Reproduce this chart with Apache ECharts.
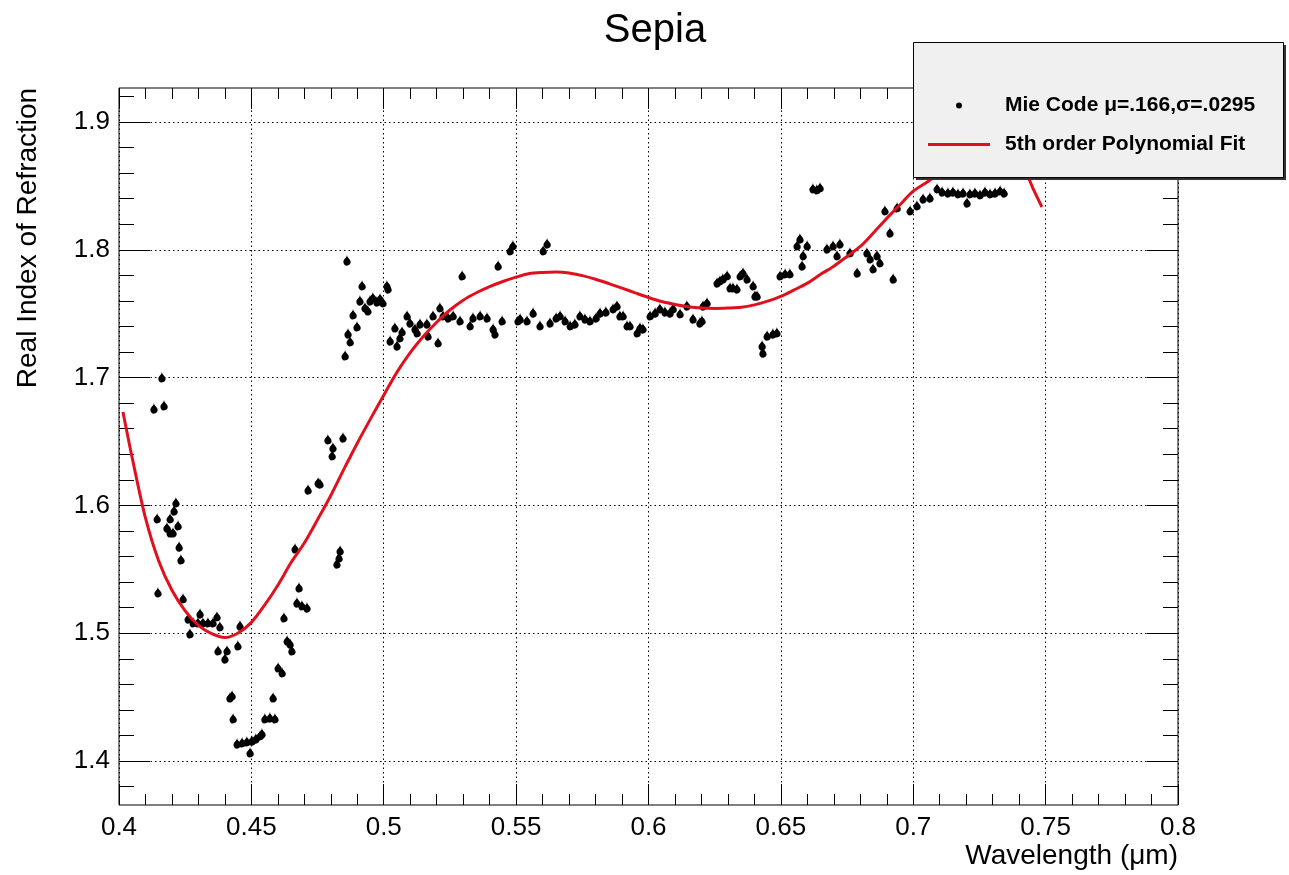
<!DOCTYPE html>
<html>
<head>
<meta charset="utf-8">
<script src="https://cdn.jsdelivr.net/npm/echarts@6/dist/echarts.min.js"></script>
<style>html,body{margin:0;padding:0;background:#fff;}#c{width:1289px;height:875px;}</style>
</head>
<body>
<div id="c"></div>
<script>
// ---- Data ----
const mieWavelength = [
0.4132,0.4170,0.4162,0.4144,0.4193,0.4215,0.4208,0.4181,0.4193,0.4204,0.4223,0.4227,0.4234,0.4147,0.4242,0.4261,0.4268,0.4306,0.4280,0.4298,
0.4317,0.4336,0.4355,0.4370,0.4381,0.4374,0.4400,0.4408,0.4457,0.4449,0.4419,0.4427,0.4431,0.4446,0.4465,0.4483,0.4502,0.4517,0.4533,0.4495,
0.4540,0.4582,0.4551,0.4570,0.4589,0.4601,0.4616,0.4635,0.4646,0.4653,0.4623,0.4680,0.4672,0.4691,0.4710,0.4665,0.4714,0.4752,0.4759,0.4835,
0.4831,0.4823,0.4789,0.4808,0.4805,0.4846,0.4854,0.4873,0.4865,0.4884,0.4899,0.4918,0.4861,0.4910,0.4929,0.4940,0.4948,0.4959,0.4974,0.4986,
0.4997,0.5012,0.5016,0.5024,0.5050,0.5042,0.5061,0.5069,0.5088,0.5099,0.5118,0.5126,0.5137,0.5163,0.5167,0.5186,0.5212,0.5205,0.5224,0.5243,
0.5262,0.5288,0.5296,0.5326,0.5337,0.5364,0.5390,0.5413,0.5420,0.5432,0.5447,0.5477,0.5488,0.5507,0.5515,0.5541,0.5564,0.5590,0.5602,0.5617,
0.5628,0.5651,0.5666,0.5685,0.5704,0.5722,0.5741,0.5760,0.5779,0.5802,0.5817,0.5839,0.5866,0.5881,0.5892,0.5904,0.5919,0.5930,0.5957,0.5968,
0.5979,0.6006,0.6025,0.6043,0.6062,0.6081,0.6093,0.6119,0.6145,0.6168,0.6194,0.6202,0.6206,0.6221,0.6259,0.6270,0.6281,0.6297,0.6308,0.6319,
0.6334,0.6346,0.6357,0.6372,0.6395,0.6402,0.6410,0.6429,0.6432,0.6448,0.6470,0.6485,0.6497,0.6516,0.6534,0.6561,0.6572,0.6584,0.6599,0.6580,
0.6621,0.6636,0.6648,0.6674,0.6697,0.6723,0.6712,0.6761,0.6788,0.6825,0.6837,0.6863,0.6874,0.6848,0.6924,0.6893,0.6912,0.6939,0.6988,0.7014,
0.7037,0.7063,0.7090,0.7109,0.7131,0.7150,0.7169,0.7188,0.7203,0.7214,0.7233,0.7252,0.7271,0.7290,0.7309,0.7328,0.7343
];
const mieIndex = [
1.6801,1.6825,1.7044,1.5941,1.5941,1.6066,1.6003,1.5870,1.5831,1.5831,1.5886,1.5721,1.5620,1.5362,1.5315,1.5158,1.5041,1.5197,1.5127,1.5127,
1.5127,1.5127,1.5127,1.5174,1.5096,1.4908,1.4845,1.4908,1.5103,1.4947,1.4540,1.4556,1.4376,1.4180,1.4188,1.4196,1.4203,1.4219,1.4243,1.4110,
1.4258,1.4540,1.4376,1.4383,1.4376,1.4775,1.4736,1.4986,1.4962,1.4908,1.5166,1.5401,1.5283,1.5260,1.5244,1.5706,1.6167,1.6222,1.6214,1.5690,
1.5635,1.5588,1.6559,1.6496,1.6434,1.6574,1.7216,1.7326,1.7388,1.7537,1.7443,1.7764,1.7959,1.7646,1.7592,1.7568,1.7646,1.7670,1.7638,1.7662,
1.7631,1.7764,1.7740,1.7333,1.7294,1.7435,1.7357,1.7404,1.7529,1.7474,1.7427,1.7396,1.7466,1.7466,1.7372,1.7529,1.7592,1.7318,1.7529,1.7513,
1.7529,1.7490,1.7842,1.7451,1.7513,1.7529,1.7513,1.7427,1.7388,1.7920,1.7490,1.8038,1.8077,1.7490,1.7505,1.7490,1.7552,1.7451,1.8038,1.8092,
1.7474,1.7513,1.7529,1.7490,1.7451,1.7466,1.7529,1.7505,1.7490,1.7513,1.7552,1.7560,1.7584,1.7607,1.7529,1.7529,1.7451,1.7451,1.7396,1.7435,
1.7427,1.7529,1.7552,1.7584,1.7560,1.7552,1.7584,1.7545,1.7607,1.7505,1.7474,1.7490,1.7607,1.7631,1.7787,1.7803,1.7818,1.7842,1.7748,1.7748,
1.7740,1.7842,1.7865,1.7818,1.7764,1.7685,1.7685,1.7294,1.7239,1.7372,1.7388,1.7396,1.7842,1.7858,1.7858,1.8077,1.8131,1.8000,1.8077,1.7920,
1.8523,1.8515,1.8531,1.8053,1.8077,1.8092,1.8000,1.8022,1.7865,1.8022,1.7975,1.8000,1.7944,1.7897,1.7818,1.8351,1.8178,1.8374,1.8351,1.8390,
1.8444,1.8452,1.8523,1.8499,1.8491,1.8499,1.8484,1.8491,1.8413,1.8484,1.8491,1.8476,1.8499,1.8484,1.8491,1.8507,1.8491
];
const fitWavelength = [0.4015,0.405,0.41,0.415,0.42,0.425,0.43,0.435,0.44,0.445,0.45,0.455,0.46,0.465,0.47,0.475,0.48,0.485,0.49,0.495,
0.50,0.505,0.51,0.515,0.52,0.525,0.53,0.535,0.54,0.545,0.55,0.555,0.56,0.565,0.57,0.575,0.58,0.585,0.59,0.595,
0.60,0.605,0.61,0.615,0.62,0.625,0.63,0.635,0.64,0.645,0.65,0.655,0.66,0.665,0.67,0.675,0.68,0.685,0.69,0.695,
0.70,0.705,0.71,0.715,0.72,0.725,0.73,0.735,0.74,0.7434,0.745,0.7486];
const fitIndex = [1.6731,1.6371,1.5902,1.5565,1.5336,1.5175,1.5061,1.4996,1.4966,1.5002,1.5085,1.5220,1.5376,1.5553,1.5706,1.5889,1.6078,1.6286,1.6487,1.6677,
1.6862,1.7043,1.7196,1.7324,1.7433,1.7529,1.7606,1.7664,1.7712,1.7752,1.7786,1.7814,1.7823,1.7826,1.7819,1.7798,1.7770,1.7736,1.7700,1.7663,
1.7627,1.7595,1.7572,1.7554,1.7544,1.7541,1.7544,1.7550,1.7569,1.7598,1.7635,1.7686,1.7739,1.7808,1.7872,1.7948,1.8026,1.8133,1.8246,1.8353,
1.8459,1.8526,1.8601,1.8648,1.8675,1.8687,1.8687,1.8675,1.8648,1.8566,1.8491,1.8335];
const xTickLabels = [0.4,0.45,0.5,0.55,0.6,0.65,0.7,0.75,0.8];
const yTickLabels = [1.4,1.5,1.6,1.7,1.8,1.9];
const xMinorTicks = [];
for (let i = 41; i < 80; i++) { if (i % 5 !== 0) xMinorTicks.push(i / 100); }
const yMinorTicks = [];
for (let i = 69; i <= 96; i++) { if (i % 5 !== 0) yMinorTicks.push(i / 50); }

const seriesNames = ['Mie Code \u03bc=.166,\u03c3=.0295', '5th order Polynomial Fit'];
const X_MIN = 0.4, X_MAX = 0.8, Y_MIN = 1.3656, Y_MAX = 1.9266;

const mieData = mieWavelength.map((x, i) => [x, mieIndex[i]]);
const fitData = fitWavelength.map((x, i) => [x, fitIndex[i]]);

const FONT = "'Liberation Sans', Arial, Helvetica, sans-serif";
const fmt = v => String(+(+v).toFixed(3));
const RED = '#e0101e';

function xAx(pos, custom, len, labels, split) {
  return {
    type: 'value', min: X_MIN, max: X_MAX, position: pos,
    interval: split ? 0.05 : undefined,
    axisLine: { show: false, onZero: false },
    axisTick: { show: true, inside: true, length: len, customValues: custom, lineStyle: { color: '#000', width: 1 } },
    axisLabel: labels ? { show: true, customValues: custom, formatter: fmt, fontSize: 26, fontFamily: FONT, color: '#000', margin: 10 } : { show: false },
    splitLine: split ? { show: true, lineStyle: { color: '#000', width: 1, type: [1.5, 3] } } : { show: false },
    minorTick: { show: false }
  };
}
function yAx(pos, custom, len, labels, split) {
  return {
    type: 'value', min: Y_MIN, max: Y_MAX, position: pos,
    axisLine: { show: false, onZero: false },
    axisTick: { show: true, inside: true, length: len, customValues: custom, lineStyle: { color: '#000', width: 1 } },
    axisLabel: labels ? { show: true, customValues: custom, formatter: fmt, fontSize: 26, fontFamily: FONT, color: '#000', margin: 9 } : { show: false },
    splitLine: split ? { show: true, lineStyle: { color: '#000', width: 1, type: [1.5, 3] } } : { show: false },
    minorTick: { show: false }
  };
}

const chart = echarts.init(document.getElementById('c'), null, { renderer: 'canvas' });
chart.setOption({
  animation: false,
  backgroundColor: '#fff',
  title: {
    text: 'Sepia', left: 650, top: 6, textAlign: 'center',
    textStyle: { fontSize: 40, fontWeight: 'normal', fontFamily: FONT, color: '#000' }
  },
  grid: { left: 119, right: 111, top: 88, bottom: 70, show: true, borderColor: '#000', borderWidth: 1, backgroundColor: 'transparent' },
  xAxis: [
    xAx('bottom', xTickLabels, 21, true, true),
    xAx('bottom', xMinorTicks, 11, false, false),
    xAx('top', xTickLabels, 21, false, false),
    xAx('top', xMinorTicks, 11, false, false)
  ],
  yAxis: [
    yAx('left', yTickLabels, 31, true, true),
    yAx('left', yMinorTicks, 15, false, false),
    yAx('right', yTickLabels, 31, false, false),
    yAx('right', yMinorTicks, 15, false, false)
  ],
  legend: {
    orient: 'vertical', left: 923, top: 90, itemWidth: 62, itemHeight: 6, itemGap: 18,
    selectedMode: false, z: 10,
    textStyle: { fontSize: 21, fontWeight: 'bold', fontFamily: FONT, color: '#000', lineHeight: 20, padding: [0, 0, 0, 10] },
    data: [
      { name: seriesNames[0], icon: 'circle' },
      { name: seriesNames[1], icon: 'path://M0,0 L62,0 L62,3 L0,3 Z' }
    ]
  },
  graphic: [
    { type: 'rect', z: 5, shape: { x: 916, y: 45, width: 370, height: 135 }, style: { fill: '#333' } },
    { type: 'rect', z: 6, shape: { x: 913.5, y: 42.5, width: 370, height: 135 }, style: { fill: '#f0f0f0', stroke: '#000', lineWidth: 1 } },
    { type: 'text', z: 6, x: 28, y: 238, rotation: Math.PI / 2,
      style: { text: 'Real Index of Refraction', fontSize: 28, fontFamily: FONT, fill: '#000', align: 'center', verticalAlign: 'middle' } },
    { type: 'text', z: 6, x: 1178, y: 856,
      style: { text: 'Wavelength (\u03bcm)', fontSize: 28, fontFamily: FONT, fill: '#000', align: 'right', verticalAlign: 'middle' } }
  ],
  series: [
    { name: seriesNames[0], type: 'scatter', data: mieData, symbol: 'pin', symbolRotate: 180, symbolSize: 12,
      itemStyle: { color: '#000', opacity: 1 }, z: 2 },
    { name: seriesNames[1], type: 'line', data: fitData, smooth: 0.3, showSymbol: false, symbol: 'none',
      lineStyle: { color: RED, width: 3 }, itemStyle: { color: RED }, z: 3 }
  ]
});
</script>
</body>
</html>
